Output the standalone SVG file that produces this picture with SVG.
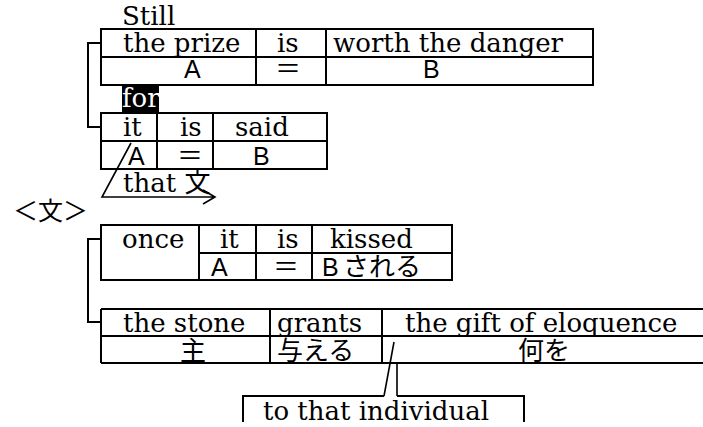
<svg xmlns="http://www.w3.org/2000/svg" width="703" height="427" viewBox="0 0 703 427">
<style>
.b{fill:none;stroke:#000;stroke-width:2}
.c{fill:none;stroke:#000;stroke-width:1.6}
.s{font-family:"DejaVu Serif","Noto Sans CJK JP",serif;font-size:26px;fill:#000}
.g{font-family:"Liberation Sans","Noto Sans CJK JP",sans-serif;font-size:25px;fill:#000}
.j{font-family:"Noto Sans CJK JP",sans-serif;font-size:26px;fill:#000}
</style>
<rect width="703" height="427" fill="#fff"/>
<g id="still"><text class="s" x="122" y="25">Still</text></g>
<g id="t1">
<rect class="b" x="101" y="29" width="492" height="56"/>
<path class="b" d="M101 57H593M256 29V85M326 29V85"/>
<text class="s" x="123" y="52">the prize</text>
<text class="s" x="277" y="52">is</text>
<text class="s" x="333" y="52">worth the danger</text>
<text class="g" x="184" y="78">A</text>
<text class="j" x="275" y="78">＝</text>
<text class="g" x="423" y="78">B</text>
</g>
<g id="for">
<rect x="122" y="86" width="37" height="27" fill="#000"/>
<text class="s" x="122" y="107" style="fill:#fff">for</text>
</g>
<g id="t2">
<rect class="b" x="101" y="113" width="226" height="56"/>
<path class="b" d="M101 141H327M157 113V169M213 113V169"/>
<text class="s" x="123" y="136">it</text>
<text class="s" x="180" y="136">is</text>
<text class="s" x="235" y="136">said</text>
<text class="g" x="128" y="165">A</text>
<text class="j" x="177" y="165">＝</text>
<text class="g" x="253" y="165">B</text>
</g>
<g id="that">
<text class="s" x="123" y="192">that 文</text>
</g>
<g id="bun">
<text class="j" x="13" y="220" style="font-size:25px">＜文＞</text>
</g>
<g id="t3">
<rect class="b" x="101" y="225" width="351" height="55"/>
<path class="b" d="M199 253H452M199 225V280M256 225V280M312 225V280"/>
<text class="s" x="122" y="248">once</text>
<text class="s" x="220" y="248">it</text>
<text class="s" x="277" y="248">is</text>
<text class="s" x="330" y="248">kissed</text>
<text class="g" x="211" y="276">A</text>
<text class="j" x="273" y="276">＝</text>
<text class="g" x="322" y="276">B</text>
<text class="j" x="343" y="276">される</text>
</g>
<g id="t4">
<path class="b" d="M101 309H703M101 336H703M101 363H703M101 309V363M270 309V363M382 309V363"/>
<text class="s" x="123" y="332">the stone</text>
<text class="s" x="277" y="332">grants</text>
<text class="s" x="405" y="332">the gift of eloquence</text>
<text class="j" x="180" y="360">主</text>
<text class="j" x="277" y="360">与える</text>
<text class="j" x="518" y="360">何を</text>
</g>
<g id="individual">
<path class="b" d="M243 422V396H384M397 396H524V422"/>
<text class="s" x="263" y="420">to that individual</text>
</g>
<g id="connectors">
<path class="b" d="M101 43H88V127H101"/>
<path class="b" d="M101 239H88V322H101"/>
<path class="c" d="M131 143L102 197H215M203 190L215 197L203 204"/>
<path class="c" d="M394 342L384 396M397 363V396"/>
</g>
</svg>
